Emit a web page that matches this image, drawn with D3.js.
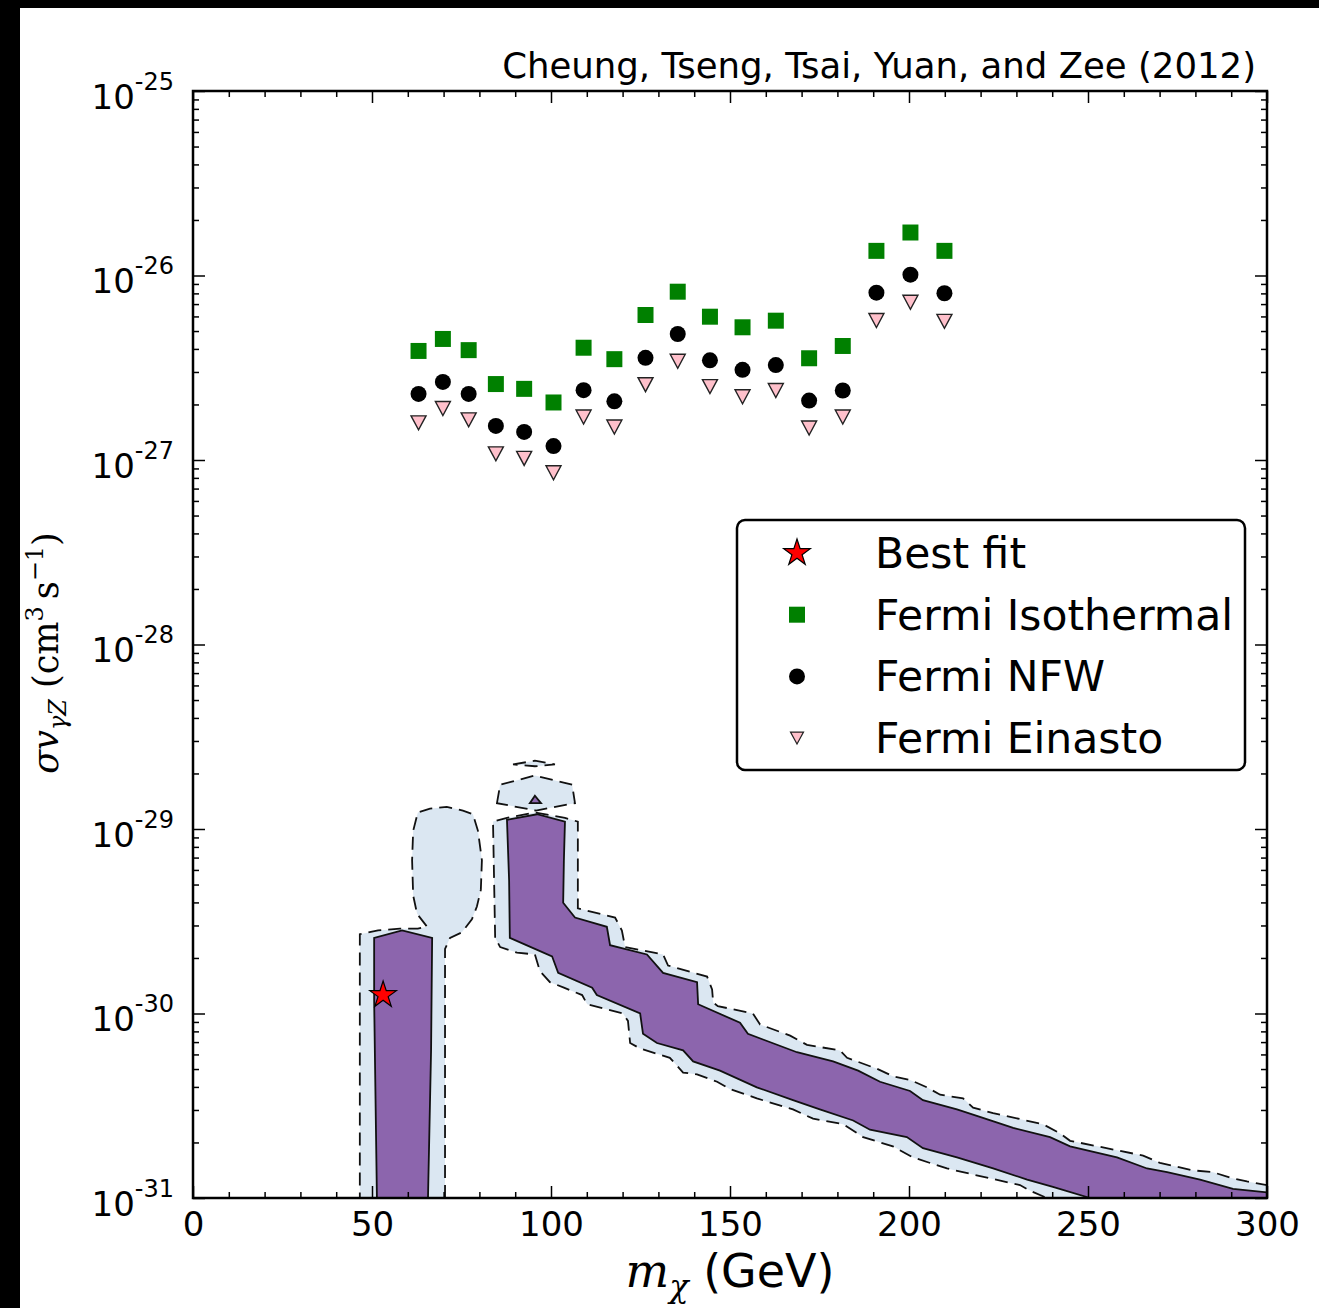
<!DOCTYPE html>
<html>
<head>
<meta charset="utf-8">
<script src="https://cdn.jsdelivr.net/npm/d3@7"></script>
<style>
  body { margin: 0; background: #fff; }
  svg text { font-family: "DejaVu Sans", sans-serif; fill: #000; }
  svg .serif, svg .serif tspan { font-family: "DejaVu Serif", serif; }
</style>
</head>
<body>
<svg id="chart"></svg>
<script>
// Dark matter mass (GeV) of the Fermi line-search points
const masses = [63.0, 69.8, 77.0, 84.6, 92.5, 100.7, 109.1, 117.7, 126.4, 135.4, 144.4, 153.5, 162.8, 172.1, 181.5, 190.9, 200.4, 209.9];
const isothermal = [3.90e-27, 4.53e-27, 3.94e-27, 2.58e-27, 2.43e-27, 2.05e-27, 4.06e-27, 3.52e-27, 6.11e-27, 8.17e-27, 5.98e-27, 5.24e-27, 5.69e-27, 3.56e-27, 4.15e-27, 1.36e-26, 1.71e-26, 1.36e-26];
const nfw = [2.28e-27, 2.65e-27, 2.28e-27, 1.53e-27, 1.42e-27, 1.19e-27, 2.39e-27, 2.08e-27, 3.58e-27, 4.82e-27, 3.47e-27, 3.08e-27, 3.27e-27, 2.10e-27, 2.38e-27, 8.07e-27, 1.01e-26, 8.01e-27];
const einasto = [1.59e-27, 1.90e-27, 1.65e-27, 1.08e-27, 1.02e-27, 8.53e-28, 1.71e-27, 1.51e-27, 2.56e-27, 3.43e-27, 2.50e-27, 2.20e-27, 2.38e-27, 1.49e-27, 1.71e-27, 5.70e-27, 7.16e-27, 5.64e-27];
const bestFit = [53.1, 1.26e-30];

const legendLabels = ["Best fit", "Fermi Isothermal", "Fermi NFW", "Fermi Einasto"];
const xTicks = [0, 50, 100, 150, 200, 250, 300];
const yExponents = [-31, -30, -29, -28, -27, -26, -25];

// Contour regions, points are [mass, log10(sigma v)]
const outerLeft = [[46.6,-31.04],[46.6,-29.57],[51.7,-29.55],[57.8,-29.54],[62.8,-29.54],[65.4,-29.53],[62.6,-29.46],[61.5,-29.36],[61.2,-29.17],[61.5,-29.01],[62.8,-28.91],[66.2,-28.89],[70.9,-28.88],[75.4,-28.90],[78.2,-28.92],[79.6,-29.01],[80.7,-29.17],[80.4,-29.33],[79.3,-29.42],[77.9,-29.49],[75.1,-29.56],[71.8,-29.59],[70.4,-29.65],[70.4,-31.04]];
const innerLeft = [[51.4,-31.04],[50.6,-29.93],[50.6,-29.59],[58.4,-29.55],[66.8,-29.59],[66.5,-30.20],[65.6,-31.04]];
const outerRight = [[84.4,-29.59],[83.8,-28.96],[87.7,-28.94],[95.5,-28.91],[103.9,-28.94],[107.5,-28.96],[107.5,-29.43],[117.9,-29.48],[119.8,-29.55],[120.7,-29.64],[131.3,-29.68],[132.7,-29.74],[143.6,-29.80],[145.0,-29.87],[145.3,-29.94],[146.6,-29.96],[156.4,-30.00],[158.4,-30.06],[166.8,-30.12],[171.5,-30.17],[180.7,-30.20],[182.7,-30.24],[191.1,-30.30],[195.5,-30.34],[200.3,-30.36],[205.0,-30.40],[208.7,-30.44],[215.1,-30.46],[217.9,-30.51],[223.5,-30.54],[237.4,-30.60],[242.2,-30.65],[245.0,-30.69],[265.4,-30.77],[270.1,-30.81],[279.3,-30.85],[284.9,-30.86],[289.7,-30.89],[294.4,-30.91],[300,-30.93],[303.6,-30.94],[303.6,-31.04],[242.7,-31.04],[238.5,-31.00],[233.8,-30.96],[231.0,-30.93],[221.8,-30.89],[210.6,-30.84],[201.1,-30.78],[195.5,-30.72],[187.2,-30.67],[181.6,-30.60],[173.2,-30.57],[167.6,-30.52],[157.5,-30.46],[150.0,-30.41],[146.4,-30.37],[140.8,-30.33],[136.9,-30.32],[133.2,-30.24],[124.9,-30.19],[122.1,-30.16],[121.5,-30.04],[120.1,-30.00],[110.1,-29.95],[108.7,-29.90],[103.6,-29.86],[99.7,-29.83],[96.9,-29.77],[95.5,-29.68],[90.5,-29.67],[85.8,-29.64]];
const innerRight = [[87.7,-28.95],[96.1,-28.92],[103.9,-28.96],[103.6,-29.17],[103.4,-29.40],[106.7,-29.48],[115.6,-29.53],[116.5,-29.63],[126.8,-29.68],[131.3,-29.78],[140.8,-29.83],[141.1,-29.95],[152.8,-30.05],[155.0,-30.11],[168.7,-30.21],[178.8,-30.26],[185.8,-30.31],[191.9,-30.37],[200.3,-30.42],[203.9,-30.47],[213.4,-30.52],[219.8,-30.56],[229.1,-30.62],[239.4,-30.67],[245.0,-30.72],[258.1,-30.78],[266.5,-30.84],[272.1,-30.86],[281.3,-30.90],[290.5,-30.95],[300,-30.97],[303.6,-30.98],[303.6,-31.04],[257.1,-31.04],[250.6,-31.00],[240.2,-30.94],[233.0,-30.90],[223.5,-30.84],[213.4,-30.78],[203.9,-30.73],[199.4,-30.67],[189.1,-30.63],[184.4,-30.58],[175.1,-30.52],[167.6,-30.47],[157.5,-30.40],[147.2,-30.31],[139.7,-30.26],[136.9,-30.20],[129.6,-30.16],[125.7,-30.11],[124.9,-30.00],[112.8,-29.90],[111.5,-29.86],[102.0,-29.78],[100.3,-29.69],[95.5,-29.65],[88.5,-29.59],[88.3,-29.28]];
const outerTop = [[84.9,-28.86],[85.8,-28.76],[95.5,-28.71],[105.9,-28.76],[106.7,-28.86],[95.8,-28.90]];
const innerTop = [[95.5,-28.82],[94.1,-28.86],[97.2,-28.86]];
const outerLens = [[89.4,-28.65],[95.5,-28.63],[101.1,-28.65],[95.5,-28.66]];

const W = 1319, H = 1308;
const plot = { left: 193, right: 1267, top: 91, bottom: 1198 };

const svg = d3.select("#chart").attr("width", W).attr("height", H);

const x = d3.scaleLinear().domain([0, 300]).range([plot.left, plot.right]);
const y = d3.scaleLog().domain([1e-31, 1e-25]).range([plot.bottom, plot.top]);

// black strips at the image edge
svg.append("rect").attr("x", 0).attr("y", 0).attr("width", 20).attr("height", H).attr("fill", "#000");
svg.append("rect").attr("x", 0).attr("y", 0).attr("width", W).attr("height", 8).attr("fill", "#000");

svg.append("clipPath").attr("id", "clip")
    .append("rect")
    .attr("x", plot.left).attr("y", plot.top)
    .attr("width", plot.right - plot.left).attr("height", plot.bottom - plot.top);

// Contours
const area = d3.line()
    .x(d => x(d[0]))
    .y(d => y(Math.pow(10, d[1])))
    .curve(d3.curveLinearClosed);

const contours = svg.append("g").attr("clip-path", "url(#clip)");
const outer = [outerLeft, outerRight, outerTop, outerLens];
const inner = [innerLeft, innerRight, innerTop];

contours.selectAll(".outer")
    .data(outer)
    .enter()
    .append("path")
    .attr("class", "outer")
    .attr("d", area)
    .attr("fill", "#dbe7f2")
    .attr("stroke", "#111")
    .attr("stroke-width", 1.8)
    .attr("stroke-dasharray", "13,7");

contours.selectAll(".inner")
    .data(inner)
    .enter()
    .append("path")
    .attr("class", "inner")
    .attr("d", area)
    .attr("fill", "#8c65ad")
    .attr("stroke", "#111")
    .attr("stroke-width", 1.8);

// Markers
const triDown = "M-7.5,-7L7.5,-7L0,7Z";
const square = d3.symbol(d3.symbolSquare, 256)();
const circle = d3.symbol(d3.symbolCircle, 201)();
const star = d3.symbol(d3.symbolStar, 220)();

const points = svg.append("g");

points.selectAll(".iso")
    .data(masses)
    .enter()
    .append("path")
    .attr("d", square)
    .attr("transform", (d, i) => `translate(${x(d)},${y(isothermal[i])})`)
    .attr("fill", "#008000");

points.selectAll(".nfw")
    .data(masses)
    .enter()
    .append("path")
    .attr("d", circle)
    .attr("transform", (d, i) => `translate(${x(d)},${y(nfw[i])})`)
    .attr("fill", "#000");

points.selectAll(".ein")
    .data(masses)
    .enter()
    .append("path")
    .attr("d", triDown)
    .attr("transform", (d, i) => `translate(${x(d)},${y(einasto[i])})`)
    .attr("fill", "#ffc0cb")
    .attr("stroke", "#222")
    .attr("stroke-width", 1.4);

points.append("path")
    .attr("d", star)
    .attr("transform", `translate(${x(bestFit[0])},${y(bestFit[1])})`)
    .attr("fill", "#ff0000")
    .attr("stroke", "#000")
    .attr("stroke-width", 1.2);

// Axes, ticks pointing inward on all four sides
function styleAxis(g) {
    g.select(".domain").remove();
    g.selectAll(".tick line").attr("stroke", "#000").attr("stroke-width", 1.5);
    g.attr("font-family", null).attr("font-size", null);
}

const minorX = d3.range(0, 301, 10).filter(v => v % 50 !== 0);
const majorY = yExponents.map(e => Math.pow(10, e));
const minorY = [];
yExponents.slice(0, -1).forEach(e => {
    for (let k = 2; k <= 9; k++) minorY.push(k * Math.pow(10, e));
});

svg.append("g")
    .attr("transform", `translate(0,${plot.bottom})`)
    .call(d3.axisBottom(x).tickValues(xTicks).tickSizeInner(-12).tickSizeOuter(0).tickPadding(14).tickFormat(d3.format("d")))
    .call(styleAxis)
    .selectAll("text").attr("font-size", 34);

svg.append("g")
    .attr("transform", `translate(0,${plot.bottom})`)
    .call(d3.axisBottom(x).tickValues(minorX).tickSize(-6).tickFormat(""))
    .call(styleAxis);

svg.append("g")
    .attr("transform", `translate(0,${plot.top})`)
    .call(d3.axisTop(x).tickValues(xTicks).tickSize(-12).tickFormat(""))
    .call(styleAxis);

svg.append("g")
    .attr("transform", `translate(0,${plot.top})`)
    .call(d3.axisTop(x).tickValues(minorX).tickSize(-6).tickFormat(""))
    .call(styleAxis);

const leftAxis = svg.append("g")
    .attr("transform", `translate(${plot.left},0)`)
    .call(d3.axisLeft(y).tickValues(majorY).tickSize(-12).tickFormat(""))
    .call(styleAxis);

leftAxis.selectAll(".tick text").remove();
leftAxis.selectAll(".tick").each(function (d, i) {
    const t = d3.select(this).append("text")
        .attr("x", -19)
        .attr("y", 17)
        .attr("text-anchor", "end")
        .attr("font-size", 34);
    t.append("tspan").text("10");
    t.append("tspan").attr("font-size", 24).attr("dy", -19).text(String(yExponents[i]));
});

svg.append("g")
    .attr("transform", `translate(${plot.left},0)`)
    .call(d3.axisLeft(y).tickValues(minorY).tickSize(-6).tickFormat(""))
    .call(styleAxis);

svg.append("g")
    .attr("transform", `translate(${plot.right},0)`)
    .call(d3.axisRight(y).tickValues(majorY).tickSize(-12).tickFormat(""))
    .call(styleAxis);

svg.append("g")
    .attr("transform", `translate(${plot.right},0)`)
    .call(d3.axisRight(y).tickValues(minorY).tickSize(-6).tickFormat(""))
    .call(styleAxis);

// Frame
svg.append("rect")
    .attr("x", plot.left).attr("y", plot.top)
    .attr("width", plot.right - plot.left).attr("height", plot.bottom - plot.top)
    .attr("fill", "none")
    .attr("stroke", "#000")
    .attr("stroke-width", 2.5);

// Title
svg.append("text")
    .attr("x", 1256)
    .attr("y", 78)
    .attr("text-anchor", "end")
    .attr("font-size", 35.5)
    .text("Cheung, Tseng, Tsai, Yuan, and Zee (2012)");

// Axis labels
const xLabel = svg.append("text")
    .attr("x", (plot.left + plot.right) / 2)
    .attr("y", 1287)
    .attr("text-anchor", "middle")
    .attr("font-size", 46);
xLabel.append("tspan").attr("class", "serif").attr("font-style", "italic").text("m");
xLabel.append("tspan").attr("class", "serif").attr("font-style", "italic").attr("font-size", 32).attr("dy", 10).text("χ");
xLabel.append("tspan").attr("dy", -10).text(" (GeV)");

const yLabel = svg.append("text")
    .attr("class", "serif")
    .attr("transform", "translate(58,653) rotate(-90)")
    .attr("text-anchor", "middle")
    .attr("font-size", 35);
yLabel.append("tspan").attr("font-style", "italic").text("σv");
yLabel.append("tspan").attr("font-style", "italic").attr("font-size", 24).attr("dy", 8).text("γZ");
yLabel.append("tspan").attr("dy", -8).text(" (cm");
yLabel.append("tspan").attr("font-size", 24).attr("dy", -15).text("3");
yLabel.append("tspan").attr("dy", 15).text("\u2009s");
yLabel.append("tspan").attr("font-size", 24).attr("dy", -15).text("−1");
yLabel.append("tspan").attr("dy", 15).text(")");

// Legend
const legend = svg.append("g");
legend.append("rect")
    .attr("x", 737).attr("y", 520)
    .attr("width", 508).attr("height", 250)
    .attr("rx", 8)
    .attr("fill", "#fff")
    .attr("stroke", "#000")
    .attr("stroke-width", 2.5);

const legendMarks = [
    { d: star, fill: "#ff0000", stroke: "#000" },
    { d: square, fill: "#008000", stroke: "none" },
    { d: circle, fill: "#000", stroke: "none" },
    { d: "M-6.5,-6L6.5,-6L0,6Z", fill: "#ffc0cb", stroke: "#222" }
];

const rows = legend.selectAll(".row")
    .data(legendLabels)
    .enter()
    .append("g")
    .attr("transform", (d, i) => `translate(0,${553 + i * 61.7})`);

rows.append("path")
    .attr("d", (d, i) => legendMarks[i].d)
    .attr("transform", "translate(797,0)")
    .attr("fill", (d, i) => legendMarks[i].fill)
    .attr("stroke", (d, i) => legendMarks[i].stroke)
    .attr("stroke-width", 1.2);

rows.append("text")
    .attr("x", 875)
    .attr("y", 15)
    .attr("font-size", 42.5)
    .text(d => d);
</script>
</body>
</html>
